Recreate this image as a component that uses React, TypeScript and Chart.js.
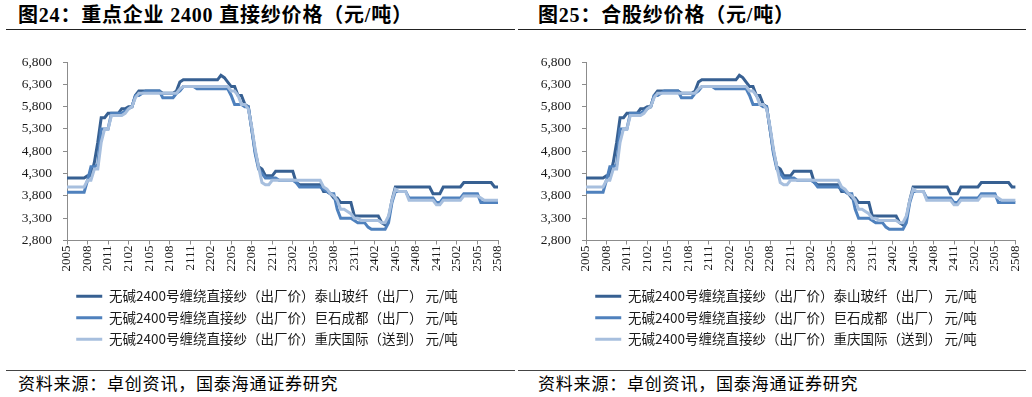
import React, { useEffect, useRef } from "react";
import { Chart, registerables } from "chart.js";

Chart.register(...registerables);

// Month tick labels (YYMM), 2020-05 .. 2025-08
const months = [
  "2005", "2006", "2007", "2008", "2009", "2010", "2011", "2012",
  "2101", "2102", "2103", "2104", "2105", "2106", "2107", "2108", "2109", "2110", "2111", "2112",
  "2201", "2202", "2203", "2204", "2205", "2206", "2207", "2208", "2209", "2210", "2211", "2212",
  "2301", "2302", "2303", "2304", "2305", "2306", "2307", "2308", "2309", "2310", "2311", "2312",
  "2401", "2402", "2403", "2404", "2405", "2406", "2407", "2408", "2409", "2410", "2411", "2412",
  "2501", "2502", "2503", "2504", "2505", "2506", "2507", "2508",
];

const seriesNames = [
  "无碱2400号缠绕直接纱（出厂价）泰山玻纤（出厂） 元/吨",
  "无碱2400号缠绕直接纱（出厂价）巨石成都（出厂） 元/吨",
  "无碱2400号缠绕直接纱（出厂价）重庆国际（送到） 元/吨",
];

// Semi-monthly readings (2 per month), 元/吨
const taishan = [
  4200, 4200, 4200, 4200, 4200, 4200, 4250, 4250, 4550, 5000,
  5550, 5550, 5650, 5650, 5650, 5650, 5750, 5750, 5800, 5800,
  6050, 6150, 6150, 6150, 6150, 6150, 6150, 6150, 6100, 6100,
  6100, 6100, 6150, 6350, 6400, 6400, 6400, 6400, 6400, 6400,
  6400, 6400, 6400, 6400, 6400, 6500, 6450, 6350, 6250, 6250,
  6050, 6050, 5850, 5800, 5300, 4800, 4450, 4400, 4250, 4250,
  4250, 4350, 4350, 4350, 4350, 4350, 4350, 4100, 4050, 4050,
  4050, 4050, 4050, 4050, 4050, 3900, 3900, 3850, 3750, 3750,
  3650, 3650, 3650, 3650, 3350, 3350, 3350, 3350, 3350, 3350,
  3350, 3350, 3200, 3150, 3300, 3700, 4000, 4000, 4000, 4000,
  4000, 4000, 4000, 4000, 4000, 4000, 4000, 3850, 3850, 3850,
  4000, 4000, 4000, 4000, 4000, 4000, 4100, 4100, 4100, 4100,
  4100, 4100, 4100, 4100, 4100, 4000, 4000,
];

const jushi = [
  3880, 3880, 3880, 3880, 3880, 3880, 4150, 4450, 4450, 4500,
  5300, 5300, 5300, 5650, 5650, 5650, 5650, 5700, 5750, 5800,
  6050, 6050, 6100, 6150, 6150, 6150, 6150, 6150, 6000, 6000,
  6000, 6000, 6100, 6150, 6250, 6250, 6250, 6250, 6200, 6200,
  6200, 6200, 6200, 6200, 6200, 6200, 6200, 6200, 6050, 5850,
  5850, 5850, 5800, 5800, 5300, 4750, 4400, 4300, 4200, 4200,
  4200, 4200, 4150, 4150, 4150, 4150, 4150, 4100, 4000, 4000,
  4000, 4000, 4000, 4000, 4000, 3950, 3900, 3850, 3850, 3500,
  3300, 3300, 3300, 3300, 3250, 3200, 3200, 3200, 3100, 3050,
  3050, 3050, 3050, 3050, 3200, 3650, 3900, 3900, 3900, 3900,
  3750, 3750, 3750, 3750, 3750, 3750, 3750, 3750, 3650, 3650,
  3750, 3750, 3750, 3750, 3750, 3750, 3850, 3850, 3850, 3850,
  3850, 3650, 3650, 3650, 3650, 3650, 3650,
];

const chongqing = [
  4000, 4000, 4000, 4000, 4000, 4000, 4150, 4150, 4400, 4400,
  5000, 5300, 5300, 5600, 5600, 5600, 5600, 5650, 5750, 5800,
  6000, 6100, 6100, 6100, 6100, 6100, 6100, 6100, 6100, 6100,
  6100, 6100, 6100, 6200, 6250, 6250, 6250, 6250, 6250, 6250,
  6250, 6250, 6250, 6250, 6250, 6250, 6250, 6250, 6150, 6150,
  6050, 5850, 5850, 5750, 5350, 4850, 4450, 4100, 4050, 4050,
  4150, 4150, 4150, 4150, 4150, 4150, 4150, 4150, 4150, 4150,
  4150, 4150, 4150, 4150, 4150, 4000, 3950, 3850, 3800, 3700,
  3500, 3500, 3450, 3400, 3300, 3300, 3250, 3250, 3250, 3250,
  3250, 3250, 3200, 3200, 3350, 3700, 3950, 3900, 3900, 3900,
  3700, 3700, 3700, 3700, 3700, 3700, 3700, 3700, 3600, 3600,
  3700, 3700, 3700, 3700, 3700, 3700, 3800, 3800, 3800, 3800,
  3800, 3750, 3700, 3700, 3700, 3700, 3700,
];

const yMin = 2800;
const yMax = 6800;
const yStep = 500;

const colors = ["#376092", "#4F81BD", "#A7BFDE"];

// two points per month; the last month has one
const labels: string[] = months.flatMap((m, i) => (i === months.length - 1 ? [m] : [m, m]));

const AXIS = "#8c8c8c";
const TXT = "#1a1a1a";

function PriceChart(props: { left: number; padL: number; padR: number; axisW: number; legendDx: number }) {
  const ref = useRef<HTMLCanvasElement>(null);
  useEffect(() => {
    const legendShift = {
      id: "legendShift",
      afterLayout(chart: any) {
        const l = chart.legend;
        if (l) {
          l.left += props.legendDx;
          l.right += props.legendDx;
        }
      },
    };
    const chart = new Chart(ref.current as HTMLCanvasElement, {
      type: "line",
      data: {
        labels,
        datasets: [taishan, jushi, chongqing].map((d, i) => ({
          label: seriesNames[i],
          data: d,
          borderColor: colors[i],
          backgroundColor: colors[i],
          borderWidth: 3,
          pointRadius: 0,
          tension: 0,
          order: 3 - i,
        })),
      },
      options: {
        animation: false,
        responsive: true,
        maintainAspectRatio: false,
        locale: "en-US",
        events: [],
        layout: { padding: { top: 22, bottom: 0, left: props.padL, right: props.padR } },
        plugins: {
          legend: {
            position: "bottom",
            align: "center",
            labels: {
              usePointStyle: true,
              pointStyle: "line",
              pointStyleWidth: 26,
              boxHeight: 13.5,
              padding: 8,
              color: TXT,
              font: { family: '"Noto Sans CJK SC", sans-serif', size: 13.5 },
              sort: (a: any, b: any) => a.datasetIndex - b.datasetIndex,
            },
          },
          tooltip: { enabled: false },
          title: { display: false },
        },
        scales: {
          x: {
            type: "category",
            offset: false,
            grid: {
              display: true,
              drawOnChartArea: false,
              drawTicks: true,
              tickLength: 4,
              color: (ctx: any) => (ctx.index % 6 === 0 ? AXIS : "rgba(0,0,0,0)"),
            },
            border: { color: AXIS, width: 1 },
            ticks: {
              autoSkip: false,
              maxRotation: 90,
              minRotation: 90,
              padding: 1,
              color: TXT,
              font: { family: '"Liberation Serif", serif', size: 13 },
              callback: (_v: any, i: number) => (i % 6 === 0 ? labels[i] : ""),
            },
            afterFit: (s: any) => {
              s.height = 41;
            },
          },
          y: {
            min: yMin,
            max: yMax,
            grid: { display: true, drawOnChartArea: false, drawTicks: true, tickLength: 4, color: AXIS },
            border: { color: AXIS, width: 1 },
            ticks: {
              stepSize: yStep,
              padding: 11,
              color: TXT,
              font: { family: '"Liberation Serif", serif', size: 13.5 },
            },
            afterFit: (s: any) => {
              s.width = props.axisW;
            },
          },
        },
      } as any,
      plugins: [legendShift],
    });
    return () => chart.destroy();
  }, []);
  return (
    <div style={{ position: "absolute", left: props.left, top: 40, width: 516, height: 316 }}>
      <canvas ref={ref} />
    </div>
  );
}

function Panel(props: { title: string; lineL: number; lineR: number; textL: number; chart: any }) {
  const { title, lineL, lineR, textL } = props;
  return (
    <>
      <div
        style={{
          position: "absolute",
          left: textL,
          top: 4,
          fontFamily: '"Liberation Serif", "Noto Sans CJK SC", serif',
          fontWeight: "bold",
          fontSize: 20,
          lineHeight: "22px",
          letterSpacing: "0.8px",
          color: "#000",
          whiteSpace: "nowrap",
        }}
      >
        {title}
      </div>
      <div style={{ position: "absolute", left: lineL, top: 29, width: lineR - lineL, height: 0, borderTop: "1.5px solid #222" }} />
      {props.chart}
      <div style={{ position: "absolute", left: lineL, top: 370, width: lineR - lineL, height: 0, borderTop: "1.5px solid #444" }} />
      <div
        style={{
          position: "absolute",
          left: textL,
          top: 372,
          fontFamily: '"Noto Sans CJK SC", sans-serif',
          fontSize: 17,
          lineHeight: "22px",
          letterSpacing: "0.8px",
          color: "#000",
          whiteSpace: "nowrap",
        }}
      >
        资料来源：卓创资讯，国泰海通证券研究
      </div>
    </>
  );
}

export default function App() {
  return (
    <div style={{ position: "absolute", left: 0, top: 0, width: 1032, height: 397, background: "#fff", overflow: "hidden" }}>
      <Panel
        title="图24：重点企业 2400 直接纱价格（元/吨）"
        lineL={6}
        lineR={515}
        textL={18}
        chart={<PriceChart left={0} padL={12} padR={18} axisW={55} legendDx={12} />}
      />
      <Panel
        title="图25：合股纱价格（元/吨）"
        lineL={518}
        lineR={1026}
        textL={538}
        chart={<PriceChart left={516} padL={14} padR={10} axisW={56} legendDx={10} />}
      />
    </div>
  );
}
